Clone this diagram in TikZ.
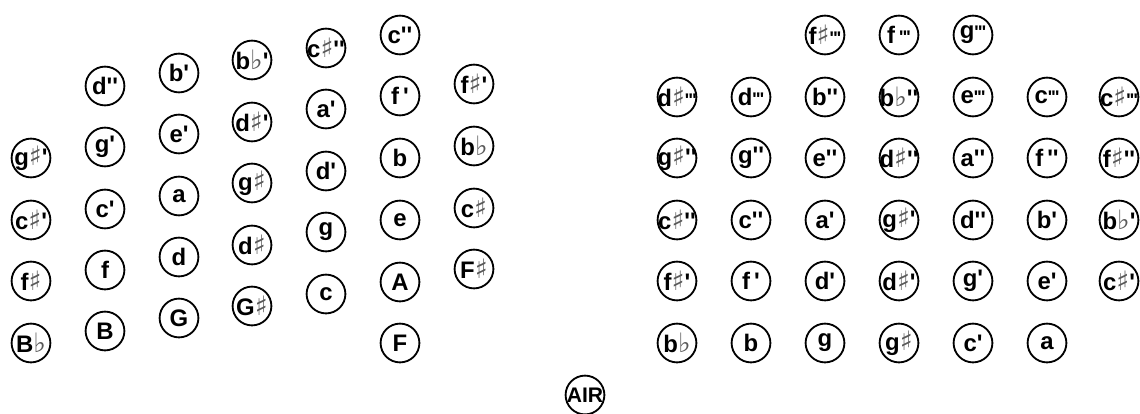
\documentclass[tikz,border=0pt]{standalone}
\usepackage{fontspec}
\setmainfont{Liberation Sans}
\newfontfamily\notefont{Liberation Sans}[Ligatures=TeXOff]
\newfontfamily\accfont{DejaVu Sans}
\newcommand{\shp}{{\accfont\mdseries\fontsize{19}{19}\selectfont\color{black!65}♯}}
\newcommand{\flt}{{\accfont\mdseries\fontsize{19}{19}\selectfont\color{black!65}♭}}
\newcommand{\tri}{{\fontsize{13}{13}\selectfont'\kern-0.5pt'\kern-0.5pt'}}

\begin{document}
\begin{tikzpicture}[
    x=0.025cm, y=-0.025cm,
    key/.style={draw, circle, line width=1.3pt, minimum size=0.97cm, inner sep=0pt,
      font=\notefont\bfseries\fontsize{17}{17}\selectfont,
      execute at begin node={\hbox to 0pt\bgroup\hss},
      execute at end node={\hss\egroup}}
]
  \useasboundingbox (0,0) rectangle (1140,414);

  % left hand side
  \node[key] (L01) at (31,158) {g\shp'};
  \node[key] (L02) at (31,220) {c\shp'};
  \node[key] (L03) at (31,281) {f\shp};
  \node[key] (L04) at (31,343) {B\flt};

  \node[key] (L10) at (105,86) {d''};
  \node[key] (L11) at (105,147) {g'};
  \node[key] (L12) at (105,209) {c'};
  \node[key] (L13) at (105,270) {f};
  \node[key] (L14) at (105,331) {B};

  \node[key] (L20) at (179,73) {b'};
  \node[key] (L21) at (179,134) {e'};
  \node[key] (L22) at (179,196) {a};
  \node[key] (L23) at (179,257) {d};
  \node[key] (L24) at (179,318) {G};

  \node[key] (L30) at (252,60) {b\flt'};
  \node[key] (L31) at (252,122) {d\shp'};
  \node[key] (L32) at (252,183) {g\shp};
  \node[key] (L33) at (252,245) {d\shp};
  \node[key] (L34) at (252,306) {G\shp};

  \node[key] (L40) at (326,48) {c\shp''};
  \node[key] (L41) at (326,109) {a'};
  \node[key] (L42) at (326,171) {d'};
  \node[key] (L43) at (326,232) {g};
  \node[key] (L44) at (326,294) {c};

  \node[key] (L50) at (400,35) {c''};
  \node[key] (L51) at (400,96) {f\,'};
  \node[key] (L52) at (400,158) {b};
  \node[key] (L53) at (400,220) {e};
  \node[key] (L54) at (400,282) {A};
  \node[key] (L55) at (400,343) {F};

  \node[key] (L61) at (474,84) {f\shp'};
  \node[key] (L62) at (474,146) {b\flt};
  \node[key] (L63) at (474,208) {c\shp};
  \node[key] (L64) at (474,269) {F\shp};

  % right hand side
  \node[key] (R02) at (825,35) {f\shp\tri};
  \node[key] (R03) at (899,35) {f\,\tri};
  \node[key] (R04) at (973,35) {g\tri};

  \node[key] (R10) at (677,97) {d\shp\tri};
  \node[key] (R11) at (751,97) {d\tri};
  \node[key] (R12) at (825,97) {b''};
  \node[key] (R13) at (899,97) {b\flt''};
  \node[key] (R14) at (973,97) {e\tri};
  \node[key] (R15) at (1047,97) {c\tri};
  \node[key] (R16) at (1119,97) {c\shp\tri};

  \node[key] (R20) at (677,158) {g\shp''};
  \node[key] (R21) at (751,158) {g''};
  \node[key] (R22) at (825,158) {e''};
  \node[key] (R23) at (899,158) {d\shp''};
  \node[key] (R24) at (973,158) {a''};
  \node[key] (R25) at (1047,158) {f\,''};
  \node[key] (R26) at (1119,158) {f\shp''};

  \node[key] (R30) at (677,220) {c\shp''};
  \node[key] (R31) at (751,220) {c''};
  \node[key] (R32) at (825,220) {a'};
  \node[key] (R33) at (899,220) {g\shp'};
  \node[key] (R34) at (973,220) {d''};
  \node[key] (R35) at (1047,220) {b'};
  \node[key] (R36) at (1119,220) {b\flt'};

  \node[key] (R40) at (677,281) {f\shp'};
  \node[key] (R41) at (751,281) {f\,'};
  \node[key] (R42) at (825,281) {d'};
  \node[key] (R43) at (899,281) {d\shp'};
  \node[key] (R44) at (973,281) {g'};
  \node[key] (R45) at (1047,281) {e'};
  \node[key] (R46) at (1119,281) {c\shp'};

  \node[key] (R50) at (677,343) {b\flt};
  \node[key] (R51) at (751,343) {b};
  \node[key] (R52) at (825,343) {g};
  \node[key] (R53) at (899,343) {g\shp};
  \node[key] (R54) at (973,343) {c'};
  \node[key] (R55) at (1047,343) {a};

  % air button
  \node[key, font=\notefont\bfseries\fontsize{15}{15}\selectfont] (air) at (585,395) {AIR};
\end{tikzpicture}
\end{document}
